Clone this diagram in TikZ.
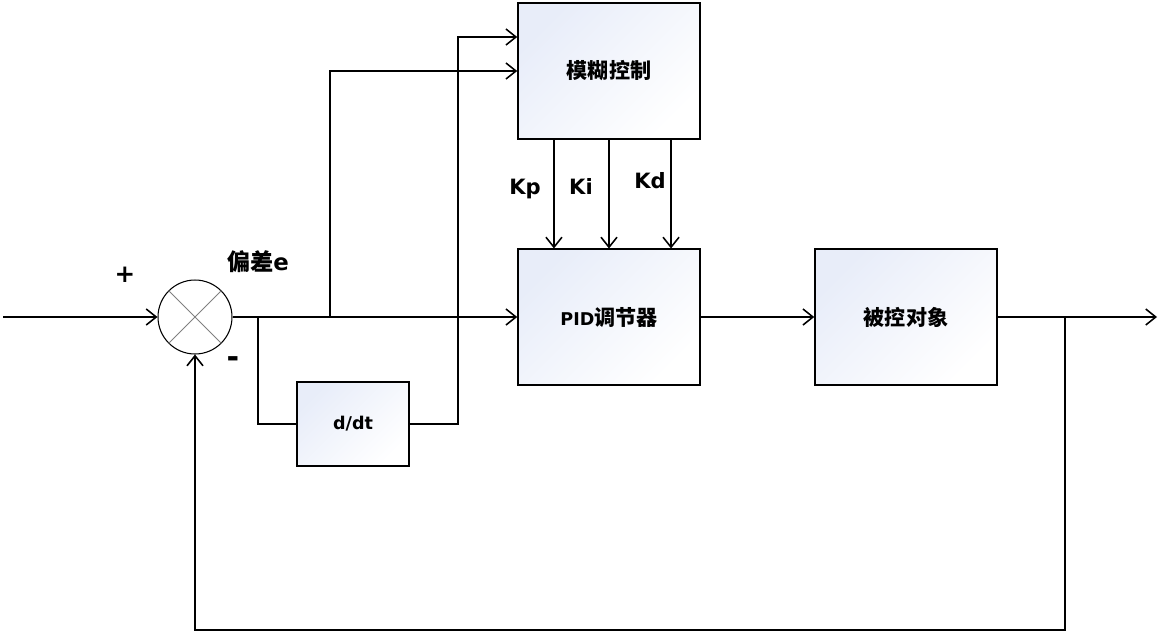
\documentclass[tikz,border=0pt]{standalone}
\usepackage{fontspec}
\setmainfont{DejaVu Sans}
\newfontfamily\cjk{Noto Sans CJK SC}[Scale=1.2]
\usetikzlibrary{arrows.meta, positioning, calc}
\definecolor{boxtop}{RGB}{232,237,249}

\begin{document}
\begin{tikzpicture}[x=0.02cm, y=-0.02cm,
  blk/.style={draw, line width=0.9pt, top color=boxtop, bottom color=white,
              shading angle=45, align=center, font=\bfseries\fontsize{10}{12}\selectfont},
  big/.style={minimum width=3.64cm, minimum height=2.71cm},
  sum/.style={draw, circle, line width=0.6pt, minimum size=1.48cm},
  lbl/.style={font=\bfseries\fontsize{12}{14}\selectfont},
  line/.style={line width=0.9pt},
  arrow/.style={line width=0.9pt, -{Straight Barb[length=2mm, width=3.2mm]}}
]
\useasboundingbox (0,0) rectangle (1158,633);
%% BLOCKS
\node[blk, big] (fuzzy) at (609,71)  {\cjk 模糊控制};
\node[blk, big] (pid)   at (609,317) {PID\cjk 调节器};
\node[blk, big] (plant) at (906,317) {\cjk 被控对象};
\node[blk, minimum width=2.24cm, minimum height=1.68cm] (ddt) at (353,424) {d/dt};
\node[sum] (sum) at (195,317) {};
\draw[gray, line width=0.5pt] (sum.north west) -- (sum.south east)
                              (sum.north east) -- (sum.south west);
%% LABELS
\node[font=\bfseries\fontsize{14}{16}\selectfont] (plus)  at (125,275) {+};
\node[font=\bfseries\LARGE] (minus) at (233,362) {-};
\node[font=\bfseries\fontsize{11}{13}\selectfont] (err) at (258,262)
  {\cjk 偏差\normalfont\bfseries\fontsize{13}{15}\selectfont e};
\node[lbl] (kp) at (525,189) {Kp};
\node[lbl] (ki) at (581,186) {Ki};
\node[lbl] (kd) at (650,181) {Kd};
%% POINTS
\coordinate (in)  at (3,317);
\coordinate (out) at (1157,317);
\coordinate (b1)  at (258,317);
\coordinate (b2)  at (330,317);
\coordinate (up)  at (458,37);
\coordinate (b3)  at (1065,317);
\coordinate (fb)  at (1065,630);
%% FORWARD PATH
\draw[arrow] (in) -- (sum.west);
\draw[arrow] (sum.east) -- (pid.west);
\draw[arrow] (pid.east) -- (plant.west);
\draw[arrow] (plant.east) -- (out);
%% TO FUZZY
\draw[line] (b1) |- (ddt.west);
\draw[arrow] (ddt.east) -| (up) -- (fuzzy.west |- up);
\draw[arrow] (b2) |- (fuzzy.west);
\foreach \f in {0.2,0.5,0.838}
  \draw[arrow] ($(fuzzy.south west)!\f!(fuzzy.south east)$)
            -- ($(pid.north west)!\f!(pid.north east)$);
%% FEEDBACK
\draw[arrow] (b3) -- (fb) -| (sum.south);
\end{tikzpicture}
\end{document}
